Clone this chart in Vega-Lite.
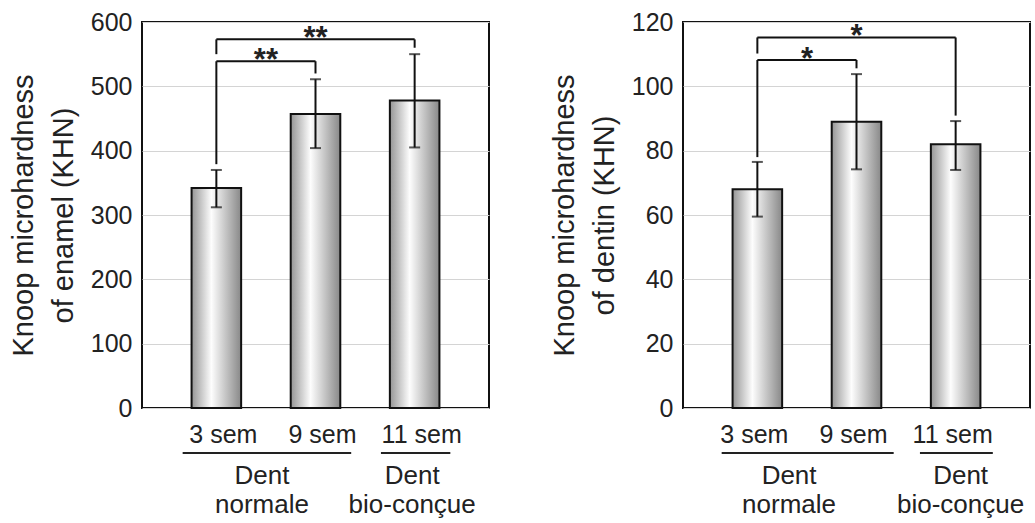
{
  "$schema": "https://vega.github.io/schema/vega-lite/v6.json",
  "background": "white",
  "padding": {"left": 8, "top": 9, "right": 0, "bottom": 0},
  "spacing": 59,
  "datasets": {
    "leftBars": [
      {"age": "3 sem", "mean": 342, "lo": 312, "hi": 370},
      {"age": "9 sem", "mean": 457, "lo": 404, "hi": 511},
      {"age": "11 sem", "mean": 478, "lo": 405, "hi": 550}
    ],
    "leftBrackets": [
      {"from": "3 sem", "to": "9 sem", "level": 539, "fromEnd": 379, "toEnd": 520, "label": "**"},
      {"from": "3 sem", "to": "11 sem", "level": 573, "fromEnd": 550, "toEnd": 560, "label": "**"}
    ],
    "rightBars": [
      {"age": "3 sem", "mean": 68, "lo": 59.5, "hi": 76.5},
      {"age": "9 sem", "mean": 89, "lo": 74.2, "hi": 103.8},
      {"age": "11 sem", "mean": 82, "lo": 74, "hi": 89.2}
    ],
    "rightBrackets": [
      {"from": "3 sem", "to": "9 sem", "level": 108.2, "fromEnd": 78, "toEnd": 105.6, "label": "*"},
      {"from": "3 sem", "to": "11 sem", "level": 115.2, "fromEnd": 110.2, "toEnd": 90.9, "label": "*"}
    ],
    "groups": [
      {"group": "Dent\nnormale", "kind": "normale", "first": "3 sem", "last": "9 sem"},
      {"group": "Dent\nbio-conçue", "kind": "bio", "first": "11 sem", "last": "11 sem"}
    ]
  },
  "hconcat": [
    {
      "width": 347,
      "height": 386,
      "layer": [
        {
          "data": {"name": "leftBars"},
          "mark": {"type": "bar", "stroke": "#111", "strokeWidth": 2,
            "fill": {"gradient": "linear", "x1": 0, "x2": 1, "y1": 0, "y2": 0,
              "stops": [{"offset": 0, "color": "#959595"}, {"offset": 0.4, "color": "#fdfdfd"}, {"offset": 1, "color": "#888888"}]}},
          "encoding": {
            "x": {"field": "age", "type": "nominal",
              "scale": {"domain": ["3 sem", "9 sem", "11 sem"], "paddingInner": 0.5, "paddingOuter": 0.5},
              "axis": {"title": null, "labelOffset": 7}},
            "y": {"field": "mean", "type": "quantitative",
              "scale": {"domain": [0, 600]},
              "axis": {"title": ["Knoop microhardness", "of enamel (KHN)"], "values": [0, 100, 200, 300, 400, 500, 600]}}
          }
        },
        {
          "data": {"name": "leftBars"},
          "mark": {"type": "rule", "color": "#111", "strokeWidth": 2},
          "encoding": {
            "x": {"field": "age", "type": "nominal"},
            "y": {"field": "lo", "type": "quantitative"},
            "y2": {"field": "hi"}
          }
        },
        {
          "data": {"name": "leftBars"},
          "mark": {"type": "tick", "color": "#111", "size": 11, "thickness": 2},
          "encoding": {
            "x": {"field": "age", "type": "nominal"},
            "y": {"field": "hi", "type": "quantitative"}
          }
        },
        {
          "data": {"name": "leftBars"},
          "mark": {"type": "tick", "color": "#111", "size": 11, "thickness": 2},
          "encoding": {
            "x": {"field": "age", "type": "nominal"},
            "y": {"field": "lo", "type": "quantitative"}
          }
        },
        {
          "data": {"name": "leftBrackets"},
          "mark": {"type": "rule", "color": "#111", "strokeWidth": 2},
          "encoding": {
            "x": {"field": "from", "type": "nominal"},
            "x2": {"field": "to"},
            "y": {"field": "level", "type": "quantitative"}
          }
        },
        {
          "data": {"name": "leftBrackets"},
          "mark": {"type": "rule", "color": "#111", "strokeWidth": 2},
          "encoding": {
            "x": {"field": "from", "type": "nominal"},
            "y": {"field": "level", "type": "quantitative"},
            "y2": {"field": "fromEnd"}
          }
        },
        {
          "data": {"name": "leftBrackets"},
          "mark": {"type": "rule", "color": "#111", "strokeWidth": 2},
          "encoding": {
            "x": {"field": "to", "type": "nominal"},
            "y": {"field": "level", "type": "quantitative"},
            "y2": {"field": "toEnd"}
          }
        },
        {
          "data": {"name": "leftBrackets"},
          "transform": [{"filter": "datum.to == '9 sem'"}],
          "mark": {"type": "text", "fontSize": 31, "fontWeight": "bold", "baseline": "middle", "color": "#222"},
          "encoding": {
            "x": {"field": "from", "type": "nominal", "bandPosition": 1.5},
            "y": {"field": "level", "type": "quantitative"},
            "text": {"field": "label"}
          }
        },
        {
          "data": {"name": "leftBrackets"},
          "transform": [{"filter": "datum.to == '11 sem'"}],
          "mark": {"type": "text", "fontSize": 31, "fontWeight": "bold", "baseline": "middle", "color": "#222"},
          "encoding": {
            "x": {"field": "from", "type": "nominal", "bandPosition": 2.5},
            "y": {"field": "level", "type": "quantitative"},
            "text": {"field": "label"}
          }
        },
        {
          "data": {"name": "groups"},
          "mark": {"type": "rule", "color": "#222", "strokeWidth": 2},
          "encoding": {
            "x": {"field": "first", "type": "nominal", "bandPosition": -0.18},
            "x2": {"field": "last", "bandPosition": 1.22},
            "y": {"datum": -70, "type": "quantitative"}
          }
        },
        {
          "data": {"name": "groups"},
          "transform": [{"filter": "datum.kind == 'normale'"}],
          "mark": {"type": "text", "fontSize": 26, "baseline": "top", "lineBreak": "\n", "lineHeight": 29, "color": "#222"},
          "encoding": {
            "x": {"field": "first", "type": "nominal", "bandPosition": 1.42},
            "y": {"datum": -85.5, "type": "quantitative"},
            "text": {"field": "group"}
          }
        },
        {
          "data": {"name": "groups"},
          "transform": [{"filter": "datum.kind == 'bio'"}],
          "mark": {"type": "text", "fontSize": 26, "baseline": "top", "lineBreak": "\n", "lineHeight": 29, "color": "#222"},
          "encoding": {
            "x": {"field": "first", "type": "nominal", "bandPosition": 0.45},
            "y": {"datum": -85.5, "type": "quantitative"},
            "text": {"field": "group"}
          }
        }
      ]
    },
    {
      "width": 347,
      "height": 386,
      "layer": [
        {
          "data": {"name": "rightBars"},
          "mark": {"type": "bar", "stroke": "#111", "strokeWidth": 2,
            "fill": {"gradient": "linear", "x1": 0, "x2": 1, "y1": 0, "y2": 0,
              "stops": [{"offset": 0, "color": "#959595"}, {"offset": 0.4, "color": "#fdfdfd"}, {"offset": 1, "color": "#888888"}]}},
          "encoding": {
            "x": {"field": "age", "type": "nominal",
              "scale": {"domain": ["3 sem", "9 sem", "11 sem"], "paddingInner": 0.5, "paddingOuter": 0.5},
              "axis": {"title": null, "labelOffset": -3}},
            "y": {"field": "mean", "type": "quantitative",
              "scale": {"domain": [0, 120]},
              "axis": {"title": ["Knoop microhardness", "of dentin (KHN)"], "values": [0, 20, 40, 60, 80, 100, 120]}}
          }
        },
        {
          "data": {"name": "rightBars"},
          "mark": {"type": "rule", "color": "#111", "strokeWidth": 2},
          "encoding": {
            "x": {"field": "age", "type": "nominal"},
            "y": {"field": "lo", "type": "quantitative"},
            "y2": {"field": "hi"}
          }
        },
        {
          "data": {"name": "rightBars"},
          "mark": {"type": "tick", "color": "#111", "size": 11, "thickness": 2},
          "encoding": {
            "x": {"field": "age", "type": "nominal"},
            "y": {"field": "hi", "type": "quantitative"}
          }
        },
        {
          "data": {"name": "rightBars"},
          "mark": {"type": "tick", "color": "#111", "size": 11, "thickness": 2},
          "encoding": {
            "x": {"field": "age", "type": "nominal"},
            "y": {"field": "lo", "type": "quantitative"}
          }
        },
        {
          "data": {"name": "rightBrackets"},
          "mark": {"type": "rule", "color": "#111", "strokeWidth": 2},
          "encoding": {
            "x": {"field": "from", "type": "nominal"},
            "x2": {"field": "to"},
            "y": {"field": "level", "type": "quantitative"}
          }
        },
        {
          "data": {"name": "rightBrackets"},
          "mark": {"type": "rule", "color": "#111", "strokeWidth": 2},
          "encoding": {
            "x": {"field": "from", "type": "nominal"},
            "y": {"field": "level", "type": "quantitative"},
            "y2": {"field": "fromEnd"}
          }
        },
        {
          "data": {"name": "rightBrackets"},
          "mark": {"type": "rule", "color": "#111", "strokeWidth": 2},
          "encoding": {
            "x": {"field": "to", "type": "nominal"},
            "y": {"field": "level", "type": "quantitative"},
            "y2": {"field": "toEnd"}
          }
        },
        {
          "data": {"name": "rightBrackets"},
          "transform": [{"filter": "datum.to == '9 sem'"}],
          "mark": {"type": "text", "fontSize": 31, "fontWeight": "bold", "baseline": "middle", "color": "#222"},
          "encoding": {
            "x": {"field": "from", "type": "nominal", "bandPosition": 1.5},
            "y": {"field": "level", "type": "quantitative"},
            "text": {"field": "label"}
          }
        },
        {
          "data": {"name": "rightBrackets"},
          "transform": [{"filter": "datum.to == '11 sem'"}],
          "mark": {"type": "text", "fontSize": 31, "fontWeight": "bold", "baseline": "middle", "color": "#222"},
          "encoding": {
            "x": {"field": "from", "type": "nominal", "bandPosition": 2.5},
            "y": {"field": "level", "type": "quantitative"},
            "text": {"field": "label"}
          }
        },
        {
          "data": {"name": "groups"},
          "mark": {"type": "rule", "color": "#222", "strokeWidth": 2},
          "encoding": {
            "x": {"field": "first", "type": "nominal", "bandPosition": -0.22},
            "x2": {"field": "last", "bandPosition": 1.25},
            "y": {"datum": -14, "type": "quantitative"}
          }
        },
        {
          "data": {"name": "groups"},
          "transform": [{"filter": "datum.kind == 'normale'"}],
          "mark": {"type": "text", "fontSize": 26, "baseline": "top", "lineBreak": "\n", "lineHeight": 29, "color": "#222"},
          "encoding": {
            "x": {"field": "first", "type": "nominal", "bandPosition": 1.14},
            "y": {"datum": -17.1, "type": "quantitative"},
            "text": {"field": "group"}
          }
        },
        {
          "data": {"name": "groups"},
          "transform": [{"filter": "datum.kind == 'bio'"}],
          "mark": {"type": "text", "fontSize": 26, "baseline": "top", "lineBreak": "\n", "lineHeight": 29, "color": "#222"},
          "encoding": {
            "x": {"field": "first", "type": "nominal", "bandPosition": 0.6},
            "y": {"datum": -17.1, "type": "quantitative"},
            "text": {"field": "group"}
          }
        }
      ]
    }
  ],
  "config": {
    "font": "Liberation Sans",
    "view": {"stroke": "#111", "strokeWidth": 2},
    "axis": {
      "labelFont": "Liberation Sans", "titleFont": "Liberation Sans",
      "labelColor": "#222", "titleColor": "#222",
      "labelFontSize": 25, "titleFontSize": 29, "titleFontWeight": "normal",
      "ticks": false, "domain": false
    },
    "axisY": {"grid": true, "gridColor": "#d4d4d4", "gridWidth": 1, "labelPadding": 10, "titlePadding": 12, "titleLineHeight": 40},
    "axisX": {"grid": false, "labelAngle": 0, "labelPadding": 14}
  }
}
